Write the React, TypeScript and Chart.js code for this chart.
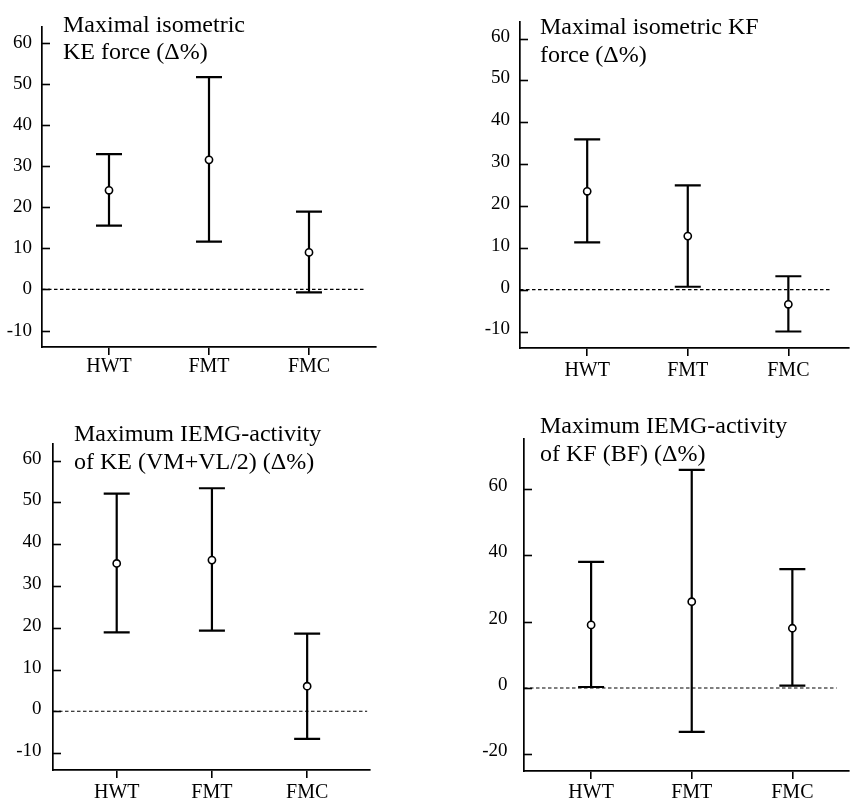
import React, { useEffect, useRef } from "react";
import { Chart, registerables } from "chart.js";

Chart.register(...registerables);

// ---------- data ----------
const categories = ["HWT", "FMT", "FMC"];

const keForceMean = [24.1, 31.5, 9.0];
const keForceLower = [15.5, 11.6, -0.7];
const keForceUpper = [32.9, 51.6, 18.9];
const keForceTicks = [-10, 0, 10, 20, 30, 40, 50, 60];

const kfForceMean = [23.5, 12.8, -3.5];
const kfForceLower = [11.3, 0.7, -10.0];
const kfForceUpper = [35.9, 24.9, 3.2];
const kfForceTicks = [-10, 0, 10, 20, 30, 40, 50, 60];

const keEmgMean = [35.4, 36.2, 6.0];
const keEmgLower = [18.9, 19.3, -6.6];
const keEmgUpper = [52.1, 53.4, 18.6];
const keEmgTicks = [-10, 0, 10, 20, 30, 40, 50, 60];

const kfEmgMean = [19.0, 26.0, 18.0];
const kfEmgLower = [0.3, -13.2, 0.7];
const kfEmgUpper = [38.0, 65.7, 35.8];
const kfEmgTicks = [-20, 0, 20, 40, 60];

// ---------- layout ----------
const SERIF = "'Liberation Serif', 'Times New Roman', serif";

const panels = [
  {
    key: "a",
    title: ["Maximal isometric", "KE force (\u0394%)"],
    mean: keForceMean, lower: keForceLower, upper: keForceUpper, ticks: keForceTicks,
    x: 0, y: 0, w: 427, h: 400,
    area: { left: 42, right: 376, top: 27, bottom: 347 },
    yMin: -14.0, yMax: 63.8, xMin: -0.67, xMax: 2.67, dashEnd: 2.55,
    yLabelPad: 10, yLabelShift: 0, xLabelPad: 0,
    titleLeft: 63, titleTop: 10.7,
  },
  {
    key: "b",
    title: ["Maximal isometric KF", "force (\u0394%)"],
    mean: kfForceMean, lower: kfForceLower, upper: kfForceUpper, ticks: kfForceTicks,
    x: 427, y: 0, w: 427, h: 400,
    area: { left: 93, right: 427, top: 16, bottom: 348 },
    yMin: -13.94, yMax: 64.1, xMin: -0.668, xMax: 2.597, dashEnd: 2.41,
    yLabelPad: 10, yLabelShift: -2, xLabelPad: 3,
    titleLeft: 540, titleTop: 13.4,
  },
  {
    key: "c",
    title: ["Maximum IEMG-activity", "of KE (VM+VL/2) (\u0394%)"],
    mean: keEmgMean, lower: keEmgLower, upper: keEmgUpper, ticks: keEmgTicks,
    x: 0, y: 400, w: 427, h: 401,
    area: { left: 53, right: 370, top: 44, bottom: 370 },
    yMin: -14.06, yMax: 64.0, xMin: -0.669, xMax: 2.66, dashEnd: 2.63,
    yLabelPad: 11.5, yLabelShift: -2, xLabelPad: 3,
    titleLeft: 74, titleTop: 420.1,
  },
  {
    key: "d",
    title: ["Maximum IEMG-activity", "of KF (BF) (\u0394%)"],
    mean: kfEmgMean, lower: kfEmgLower, upper: kfEmgUpper, ticks: kfEmgTicks,
    x: 427, y: 400, w: 427, h: 401,
    area: { left: 97, right: 427, top: 39, bottom: 371 },
    yMin: -25.0, yMax: 75.0, xMin: -0.667, xMax: 2.557, dashEnd: 2.44,
    yLabelPad: 16.5, yLabelShift: -3, xLabelPad: 2,
    titleLeft: 540, titleTop: 412.4,
  },
];

function makeErrorBarPlugin(lower: number[], upper: number[]) {
  return {
    id: "errorBarsAndInnerTicks",
    beforeDatasetsDraw(chart: any) {
      const ctx = chart.ctx;
      const xs = chart.scales.x;
      const ys = chart.scales.y;
      ctx.save();
      ctx.strokeStyle = "#000";
      ctx.lineWidth = 2.2;
      ctx.lineCap = "butt";
      lower.forEach((lo, i) => {
        const px = xs.getPixelForValue(i);
        const yl = ys.getPixelForValue(lo);
        const yu = ys.getPixelForValue(upper[i]);
        ctx.beginPath();
        ctx.moveTo(px, yl);
        ctx.lineTo(px, yu);
        ctx.moveTo(px - 13, yl);
        ctx.lineTo(px + 13, yl);
        ctx.moveTo(px - 13, yu);
        ctx.lineTo(px + 13, yu);
        ctx.stroke();
      });
      ctx.restore();
    },
    afterDraw(chart: any) {
      const ctx = chart.ctx;
      const ys = chart.scales.y;
      const x0 = chart.chartArea.left;
      ctx.save();
      ctx.strokeStyle = "#000";
      ctx.lineWidth = 1.6;
      ys.ticks.forEach((t: any) => {
        const py = Math.round(ys.getPixelForValue(t.value)) + 0.5;
        ctx.beginPath();
        ctx.moveTo(x0, py);
        ctx.lineTo(x0 + 8, py);
        ctx.stroke();
      });
      ctx.restore();
    },
  };
}

function Panel({ cfg }: { cfg: any }) {
  const ref = useRef<HTMLCanvasElement>(null);
  useEffect(() => {
    const canvas = ref.current;
    if (!canvas) return;
    const font = { family: SERIF, size: 19 };
    const chart = new Chart(canvas, {
      type: "scatter",
      data: {
        datasets: [
          {
            type: "line",
            data: [
              { x: cfg.xMin, y: 0 },
              { x: cfg.dashEnd, y: 0 },
            ],
            borderColor: "#000",
            borderWidth: 1.1,
            borderDash: [3.5, 2.5],
            pointRadius: 0,
            fill: false,
            order: 2,
          } as any,
          {
            type: "scatter",
            data: cfg.mean.map((m: number, i: number) => ({ x: i, y: m })),
            pointRadius: 3.6,
            pointBorderWidth: 1.6,
            borderColor: "#000",
            backgroundColor: "#fff",
            pointStyle: "circle",
            order: 1,
          } as any,
        ],
      },
      options: {
        responsive: false,
        animation: false,
        devicePixelRatio: 1,
        events: [],
        layout: {
          padding: { left: 0, top: cfg.area.top, right: cfg.w - cfg.area.right, bottom: 0 },
        },
        plugins: {
          legend: { display: false },
          tooltip: { enabled: false },
          title: { display: false },
        },
        scales: {
          x: {
            type: "linear",
            position: "bottom",
            min: cfg.xMin,
            max: cfg.xMax,
            afterBuildTicks: (s: any) => {
              s.ticks = categories.map((_, i) => ({ value: i }));
            },
            afterFit: (s: any) => {
              s.height = cfg.h - cfg.area.bottom;
            },
            ticks: {
              callback: (v: any) => categories[v] ?? "",
              font: { family: SERIF, size: 20 },
              color: "#000",
              padding: cfg.xLabelPad,
              maxRotation: 0,
              autoSkip: false,
            },
            grid: {
              display: true,
              drawOnChartArea: false,
              drawTicks: true,
              tickLength: 8,
              color: "#000",
              lineWidth: 1.6,
            },
            border: { display: true, color: "#000", width: 1.7 },
          },
          y: {
            type: "linear",
            min: cfg.yMin,
            max: cfg.yMax,
            afterBuildTicks: (s: any) => {
              s.ticks = cfg.ticks.map((v: number) => ({ value: v }));
            },
            afterFit: (s: any) => {
              s.width = cfg.area.left;
            },
            ticks: {
              font,
              color: "#000",
              padding: cfg.yLabelPad,
              labelOffset: cfg.yLabelShift,
              autoSkip: false,
            },
            grid: { display: false, drawTicks: false, tickLength: 0 },
            border: { display: true, color: "#000", width: 1.7 },
          },
        },
      } as any,
      plugins: [makeErrorBarPlugin(cfg.lower, cfg.upper)],
    });
    return () => chart.destroy();
  }, [cfg]);

  return (
    <>
      <canvas
        ref={ref}
        width={cfg.w}
        height={cfg.h}
        style={{ position: "absolute", left: cfg.x, top: cfg.y, width: cfg.w, height: cfg.h }}
      />
      <div
        style={{
          position: "absolute",
          left: cfg.titleLeft,
          top: cfg.titleTop,
          fontFamily: SERIF,
          fontSize: 24,
          lineHeight: "27.5px",
          color: "#000",
          whiteSpace: "nowrap",
        }}
      >
        {cfg.title[0]}
        <br />
        {cfg.title[1]}
      </div>
    </>
  );
}

export default function App() {
  return (
    <div
      style={{
        position: "fixed",
        left: 0,
        top: 0,
        width: 854,
        height: 801,
        background: "#fff",
        overflow: "hidden",
      }}
    >
      {panels.map((p) => (
        <Panel key={p.key} cfg={p} />
      ))}
    </div>
  );
}
